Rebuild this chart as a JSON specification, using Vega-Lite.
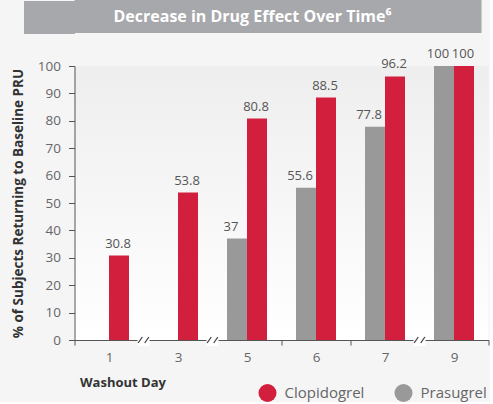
{
  "$schema": "https://vega.github.io/schema/vega-lite/v6.json",
  "background": "#f5f5f6",
  "padding": {"left": 6.5, "top": 0, "right": 0, "bottom": 0},
  "columns": 1,
  "align": "none",
  "spacing": 14,
  "resolve": {"scale": {"color": "independent"}, "legend": {"color": "independent"}},
  "config": {"font": "Open Sans", "view": {"stroke": null}},
  "datasets": {
    "bars": [
      {"day": "1", "drug": "Clopidogrel", "value": 30.8},
      {"day": "3", "drug": "Clopidogrel", "value": 53.8},
      {"day": "5", "drug": "Prasugrel", "value": 37},
      {"day": "5", "drug": "Clopidogrel", "value": 80.8},
      {"day": "6", "drug": "Prasugrel", "value": 55.6},
      {"day": "6", "drug": "Clopidogrel", "value": 88.5},
      {"day": "7", "drug": "Prasugrel", "value": 77.8},
      {"day": "7", "drug": "Clopidogrel", "value": 96.2},
      {"day": "9", "drug": "Prasugrel", "value": 100},
      {"day": "9", "drug": "Clopidogrel", "value": 100}
    ],
    "breaks": [{"day": "1"}, {"day": "3"}, {"day": "7"}]
  },
  "concat": [
    {
      "width": 407,
      "height": 33,
      "view": {"fill": "#a7a8ab", "stroke": null},
      "data": {"values": [{"t": "Decrease in Drug Effect Over Time⁶"}]},
      "mark": {"type": "text", "color": "#ffffff", "fontSize": 16, "fontWeight": "bold", "dx": -25.5},
      "encoding": {
        "text": {"field": "t"},
        "y": {"field": "t", "type": "nominal", "title": null,
          "axis": {"labels": false, "domain": false, "ticks": true, "tickSize": 51, "tickWidth": 33, "tickColor": "#a7a8ab", "tickOpacity": 1, "tickCap": "butt", "minExtent": 0}}
      }
    },
    {
      "width": 414,
      "height": 274,
      "view": {"fill": {"gradient": "linear", "x1": 0, "y1": 0, "x2": 0, "y2": 1, "stops": [{"offset": 0, "color": "#eeeeef"}, {"offset": 1, "color": "#ffffff"}]}, "stroke": null},
      "layer": [
        {
          "data": {"name": "bars"},
          "mark": {"type": "bar"},
          "encoding": {
            "x": {"field": "day", "type": "nominal", "title": "Washout Day",
              "scale": {"domain": ["1", "3", "5", "6", "7", "9"], "paddingInner": 0, "paddingOuter": 0},
              "axis": {"tickBand": "extent", "labelAngle": 0, "domainColor": "#555555", "tickColor": "#555555", "tickSize": 5, "labelPadding": 5, "labelColor": "#666666", "labelFontSize": 13.5, "titleFontSize": 13, "titleFontWeight": "bold", "titleColor": "#333333", "titleAnchor": "start", "titleAlign": "left", "titleX": 5, "titleY": 42, "titleBaseline": "middle"}},
            "xOffset": {"field": "drug", "type": "nominal", "scale": {"domain": ["Prasugrel", "Clopidogrel"], "paddingInner": 0, "paddingOuter": 0.725}},
            "y": {"field": "value", "type": "quantitative", "title": "% of Subjects Returning to Baseline PRU",
              "scale": {"domain": [0, 100]},
              "axis": {"tickCount": 10, "grid": false, "domainColor": "#555555", "tickColor": "#555555", "tickSize": 6, "labelPadding": 8, "labelFontSize": 13.5, "labelColor": "#666666", "titleFontSize": 13.5, "titleFontWeight": "bold", "titleColor": "#333333", "titlePadding": 12}},
            "color": {"field": "drug", "type": "nominal",
              "scale": {"domain": ["Clopidogrel", "Prasugrel"], "range": ["#d11f3d", "#999999"]},
              "legend": {"orient": "none", "legendX": 184, "legendY": 318, "direction": "horizontal", "title": null, "symbolType": "circle", "symbolSize": 324, "symbolStrokeWidth": 0, "symbolOpacity": 1, "labelFontSize": 15, "labelColor": "#666666", "labelOffset": 8, "columnPadding": 30, "padding": 0}}
          }
        },
        {
          "data": {"name": "bars"},
          "transform": [{"filter": "datum.drug === 'Clopidogrel'"}],
          "mark": {"type": "text", "dy": -12, "dx": -1, "fontSize": 13, "color": "#555555", "baseline": "middle"},
          "encoding": {
            "x": {"field": "day", "type": "nominal"},
            "xOffset": {"field": "drug", "type": "nominal"},
            "y": {"field": "value", "type": "quantitative"},
            "text": {"field": "value", "type": "quantitative"}
          }
        },
        {
          "data": {"name": "bars"},
          "transform": [{"filter": "datum.drug === 'Prasugrel'"}],
          "mark": {"type": "text", "dy": -12, "dx": -6, "fontSize": 13, "color": "#555555", "baseline": "middle"},
          "encoding": {
            "x": {"field": "day", "type": "nominal"},
            "xOffset": {"field": "drug", "type": "nominal"},
            "y": {"field": "value", "type": "quantitative"},
            "text": {"field": "value", "type": "quantitative"}
          }
        },
        {
          "data": {"name": "breaks"},
          "mark": {"type": "point", "shape": "square", "filled": true, "color": "#ffffff", "opacity": 1, "size": 144, "strokeWidth": 0},
          "encoding": {
            "x": {"field": "day", "type": "nominal", "bandPosition": 1},
            "y": {"datum": 0, "type": "quantitative"}
          }
        },
        {
          "data": {"name": "breaks"},
          "mark": {"type": "point", "shape": "M -0.9 0.5 L -0.2 -0.5 M 0.2 0.5 L 0.9 -0.5", "filled": false, "color": "#444444", "opacity": 1, "size": 144, "strokeWidth": 1.3},
          "encoding": {
            "x": {"field": "day", "type": "nominal", "bandPosition": 1},
            "y": {"datum": 0, "type": "quantitative"}
          }
        }
      ]
    }
  ]
}
